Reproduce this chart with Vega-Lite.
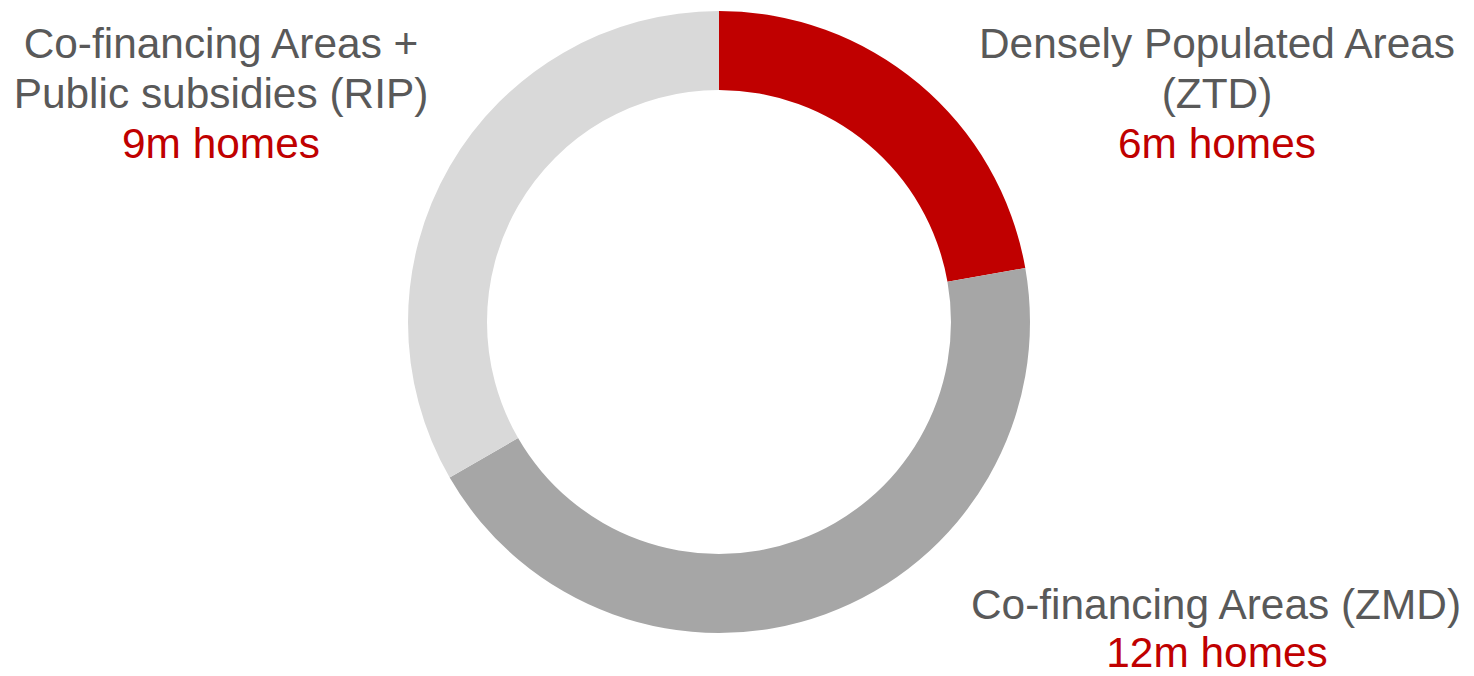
{
  "$schema": "https://vega.github.io/schema/vega-lite/v6.json",
  "autosize": "none",
  "width": 1438,
  "height": 644,
  "padding": {"left": 0, "top": 0, "right": 36, "bottom": 32},
  "background": "white",
  "config": {"view": {"stroke": null}},
  "layer": [
    {
      "data": {"values": [
        {"area": "Densely Populated Areas (ZTD)", "homes": 6, "ord": 1},
        {"area": "Co-financing Areas (ZMD)", "homes": 12, "ord": 2},
        {"area": "Co-financing Areas + Public subsidies (RIP)", "homes": 9, "ord": 3}
      ]},
      "mark": {"type": "arc", "outerRadius": 311, "innerRadius": 232},
      "encoding": {
        "theta": {"field": "homes", "type": "quantitative", "stack": true},
        "order": {"field": "ord", "type": "quantitative"},
        "color": {
          "field": "area", "type": "nominal", "legend": null,
          "scale": {
            "domain": ["Densely Populated Areas (ZTD)", "Co-financing Areas (ZMD)", "Co-financing Areas + Public subsidies (RIP)"],
            "range": ["#C00000", "#A6A6A6", "#D9D9D9"]
          }
        }
      }
    },
    {
      "data": {"values": [
        {"label": "Co-financing Areas +", "lx": 221, "ly": 45, "kind": "name"},
        {"label": "Public subsidies (RIP)", "lx": 221, "ly": 95, "kind": "name"},
        {"label": "9m homes", "lx": 221, "ly": 145, "kind": "value"},
        {"label": "Densely Populated Areas", "lx": 1217, "ly": 45, "kind": "name"},
        {"label": "(ZTD)", "lx": 1217, "ly": 95, "kind": "name"},
        {"label": "6m homes", "lx": 1217, "ly": 145, "kind": "value"},
        {"label": "Co-financing Areas (ZMD)", "lx": 1216, "ly": 606, "kind": "name"},
        {"label": "12m homes", "lx": 1217, "ly": 654, "kind": "value"}
      ]},
      "mark": {"type": "text", "font": "Liberation Sans", "fontSize": 42.4, "align": "center", "baseline": "middle"},
      "encoding": {
        "x": {"field": "lx", "type": "quantitative", "scale": {"domain": [0, 1438]}, "axis": null},
        "y": {"field": "ly", "type": "quantitative", "scale": {"domain": [0, 644], "reverse": true}, "axis": null},
        "text": {"field": "label", "type": "nominal"},
        "color": {
          "field": "kind", "type": "nominal", "legend": null,
          "scale": {"domain": ["name", "value"], "range": ["#595959", "#C00000"]}
        }
      }
    }
  ],
  "resolve": {"scale": {"color": "independent"}}
}
